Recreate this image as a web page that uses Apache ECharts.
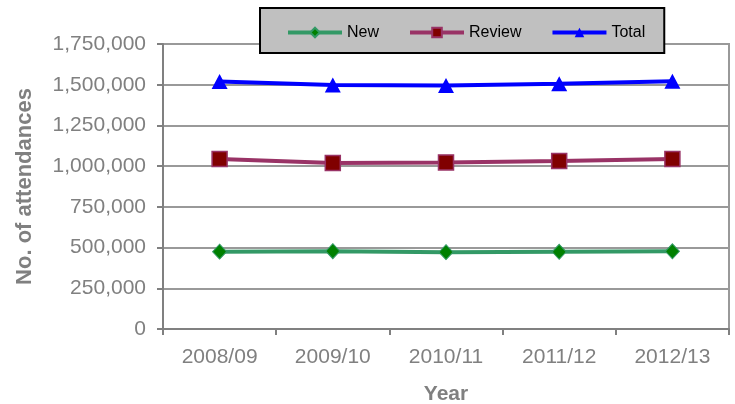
<!DOCTYPE html>
<html>
<head>
<meta charset="utf-8">
<script src="https://cdn.jsdelivr.net/npm/echarts@6/dist/echarts.min.js"></script>
<style>
html,body{margin:0;padding:0;background:#fff;}
#c{width:735px;height:404px;}
</style>
</head>
<body>
<div id="c"></div>
<script>
const categories = ['2008/09', '2009/10', '2010/11', '2011/12', '2012/13'];
const newValues = [475000, 478000, 472000, 474000, 477000];
const reviewValues = [1044000, 1020000, 1023000, 1032000, 1044000];
const totalValues = [1519000, 1498000, 1495000, 1506000, 1521000];
const yTicks = [0, 250000, 500000, 750000, 1000000, 1250000, 1500000, 1750000];

const FONT = '"Liberation Sans", Arial, sans-serif';
const GREY = '#808080';

const chart = echarts.init(document.getElementById('c'), null, {renderer: 'canvas'});
chart.setOption({
  animation: false,
  backgroundColor: '#ffffff',
  textStyle: {fontFamily: FONT},
  grid: {
    left: 163, right: 6, top: 44, bottom: 75,
    show: true, borderColor: '#999999', borderWidth: 2, backgroundColor: 'transparent',
    containLabel: false,
    outerBoundsMode: 'none'
  },
  legend: {
    left: 260, top: 8,
    padding: [6, 19, 2, 26],
    backgroundColor: '#c0c0c0',
    borderColor: '#000000', borderWidth: 2,
    itemWidth: 54, itemHeight: 12, itemGap: 29,
    lineStyle: {width: 4},
    textStyle: {color: '#000', fontSize: 16, fontFamily: FONT, lineHeight: 37},
    data: ['New', 'Review', 'Total']
  },
  xAxis: {
    type: 'category',
    data: categories,
    boundaryGap: true,
    name: 'Year',
    nameLocation: 'middle',
    nameGap: 55,
    nameTextStyle: {color: GREY, fontSize: 21, fontWeight: 'bold', fontFamily: FONT},
    axisLine: {lineStyle: {color: GREY, width: 2}},
    axisTick: {show: true, length: 6, lineStyle: {color: GREY, width: 2}},
    axisLabel: {color: GREY, fontSize: 21, margin: 18, fontFamily: FONT},
    splitLine: {show: false}
  },
  yAxis: {
    type: 'value',
    min: 0, max: 1750000, interval: 250000,
    name: 'No. of attendances',
    nameLocation: 'middle',
    nameGap: 127,
    nameRotate: 90,
    nameTextStyle: {color: GREY, fontSize: 22, fontWeight: 'bold', fontFamily: FONT},
    axisLine: {show: true, lineStyle: {color: GREY, width: 2}},
    axisTick: {show: true, length: 6, lineStyle: {color: GREY, width: 2}},
    axisLabel: {
      color: GREY, fontSize: 21, margin: 17, fontFamily: FONT,
      formatter: v => yTicks.includes(v) ? v.toLocaleString('en-US') : ''
    },
    splitLine: {show: true, lineStyle: {color: '#999999', width: 2}}
  },
  series: [
    {
      name: 'New', type: 'line', data: newValues,
      symbol: 'diamond', symbolSize: [14, 15],
      lineStyle: {color: '#339966', width: 4},
      itemStyle: {color: '#008000', borderColor: '#339966', borderWidth: 1},
      z: 3
    },
    {
      name: 'Review', type: 'line', data: reviewValues,
      symbol: 'rect', symbolSize: 15,
      lineStyle: {color: '#993366', width: 4},
      itemStyle: {color: '#800000', borderColor: '#993366', borderWidth: 1.5},
      z: 4
    },
    {
      name: 'Total', type: 'line', data: totalValues,
      symbol: 'triangle', symbolSize: [16, 15],
      lineStyle: {color: '#0000ff', width: 4},
      itemStyle: {color: '#0000ff', borderColor: '#0000ff', borderWidth: 0},
      z: 5
    }
  ]
});
</script>
</body>
</html>
